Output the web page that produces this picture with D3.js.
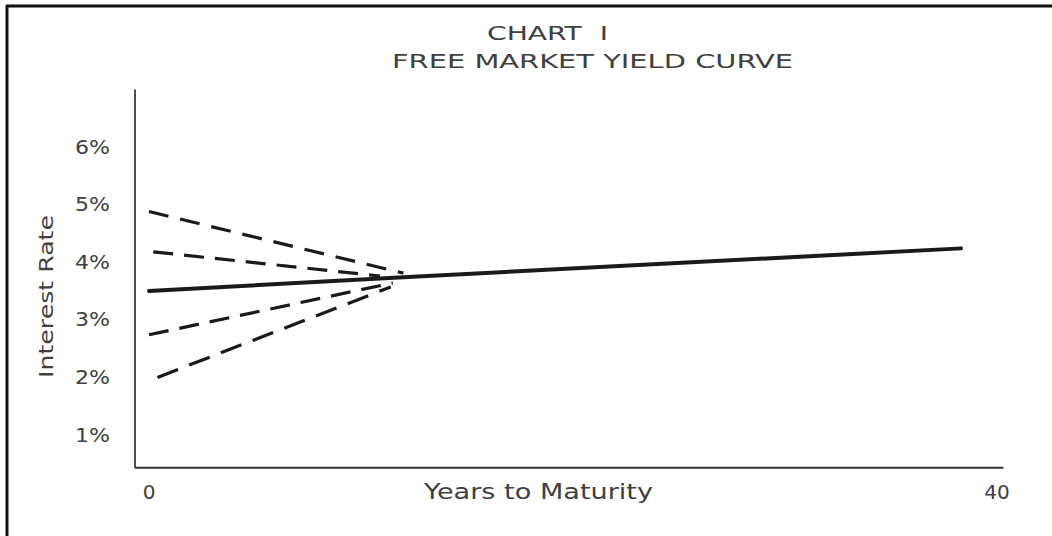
<!DOCTYPE html>
<html>
<head>
<meta charset="utf-8">
<script src="https://cdn.jsdelivr.net/npm/d3@7"></script>
<style>
  html, body { margin: 0; padding: 0; background: #fff; }
  svg { display: block; }
  text { font-family: "DejaVu Sans", sans-serif; fill: #404040; }
</style>
</head>
<body>
<svg id="chart" width="1052" height="536"></svg>
<script>
// ---- data ----
const titleLines = ["CHART  I", "FREE MARKET YIELD CURVE"];
const yTickValues = [1, 2, 3, 4, 5, 6];
const yTickLabels = ["1%", "2%", "3%", "4%", "5%", "6%"];
const xTickValues = [0, 40];
const xTickLabels = ["0", "40"];
const xAxisTitle = "Years to Maturity";
const yAxisTitle = "Interest Rate";

// solid free-market yield curve (years, rate %)
const solidCurve = [[0, 3.5], [12, 3.74], [38.3, 4.24]];
// dashed alternative curves converging on the solid one
const dashedTop    = [[0, 4.88], [12, 3.81]];
const dashedUpper  = [[0.2, 4.18], [10.9, 3.76]];
const dashedLower  = [[0, 2.74], [11.5, 3.64]];
const dashedBottom = [[0.4, 2.0], [11.4, 3.57]];

// ---- drawing ----
const svg = d3.select("#chart");
const x = d3.scaleLinear().domain([0, 40]).range([149, 997]);
const y = d3.scaleLinear().domain([1, 6]).range([435, 147]);

// frame (top and left edges)
svg.append("line").attr("x1", 6).attr("x2", 1052).attr("y1", 6).attr("y2", 6)
  .attr("stroke", "#111").attr("stroke-width", 3);
svg.append("line").attr("x1", 7).attr("x2", 7).attr("y1", 5).attr("y2", 536)
  .attr("stroke", "#111").attr("stroke-width", 3);

// title
svg.append("text").attr("x", 487).attr("y", 40)
  .attr("font-size", 19).attr("textLength", 121).attr("lengthAdjust", "spacingAndGlyphs")
  .style("white-space", "pre").text(titleLines[0]);
svg.append("text").attr("x", 392).attr("y", 68)
  .attr("font-size", 19).attr("textLength", 401).attr("lengthAdjust", "spacingAndGlyphs")
  .text(titleLines[1]);

// axes lines
const yBase = y(0.43);
svg.append("line").attr("x1", x(-0.66)).attr("x2", x(-0.66))
  .attr("y1", y(7)).attr("y2", yBase)
  .attr("stroke", "#222").attr("stroke-width", 1.6);
svg.append("line").attr("x1", x(-0.66)).attr("x2", x(40.3))
  .attr("y1", yBase).attr("y2", yBase)
  .attr("stroke", "#333").attr("stroke-width", 2);

// y tick labels
svg.selectAll(".ytick").data(yTickValues).enter().append("text")
  .attr("class", "ytick")
  .attr("x", 110).attr("y", d => y(d)).attr("dy", "0.35em")
  .attr("text-anchor", "end").attr("font-size", 19)
  .attr("textLength", 35).attr("lengthAdjust", "spacingAndGlyphs")
  .text((d, i) => yTickLabels[i]);

// x tick labels
svg.selectAll(".xtick").data(xTickValues).enter().append("text")
  .attr("class", "xtick")
  .attr("x", d => x(d)).attr("y", 499)
  .attr("text-anchor", "middle").attr("font-size", 20)
  .text((d, i) => xTickLabels[i]);

// axis titles
svg.append("text").attr("x", 424).attr("y", 499)
  .attr("font-size", 21).attr("textLength", 229).attr("lengthAdjust", "spacingAndGlyphs")
  .text(xAxisTitle);
svg.append("text").attr("transform", "translate(53,378) rotate(-90)")
  .attr("font-size", 20).attr("textLength", 163).attr("lengthAdjust", "spacingAndGlyphs")
  .text(yAxisTitle);

// curves
const line = d3.line().x(d => x(d[0])).y(d => y(d[1]));
svg.append("path").datum(solidCurve).attr("d", line)
  .attr("fill", "none").attr("stroke", "#1a1a1a").attr("stroke-width", 4)
  .attr("stroke-linecap", "round");

const dashed = [
  { data: dashedTop, dash: "20,12" },
  { data: dashedUpper, dash: "20,11" },
  { data: dashedLower, dash: "20,11" },
  { data: dashedBottom, dash: "22,12" }
];
svg.selectAll(".dash").data(dashed).enter().append("path")
  .attr("class", "dash")
  .attr("d", d => line(d.data))
  .attr("fill", "none").attr("stroke", "#1a1a1a").attr("stroke-width", 3.2)
  .attr("stroke-dasharray", d => d.dash);
</script>
</body>
</html>
